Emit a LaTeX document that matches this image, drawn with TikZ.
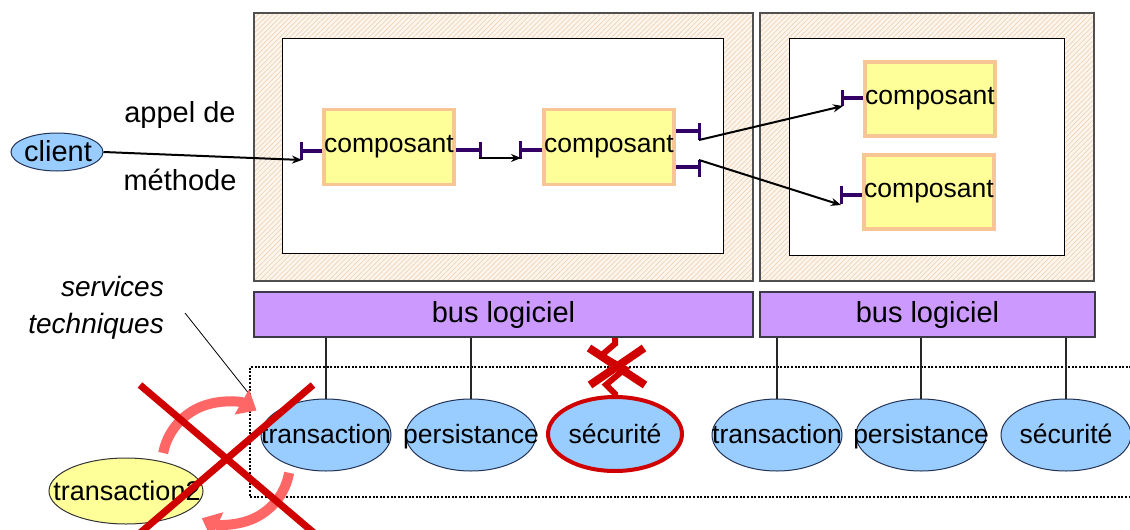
\documentclass[tikz,border=0pt]{standalone}
\usepackage{fontspec}
\setmainfont{Liberation Sans}
\usetikzlibrary{arrows.meta,patterns.meta,shapes.geometric,calc}

\definecolor{hatchbg}{HTML}{FDF6EE}
\definecolor{hatchln}{HTML}{F0D2B4}
\definecolor{framec}{HTML}{505050}
\definecolor{compfill}{HTML}{FFFF99}
\definecolor{compedge}{HTML}{F8C695}
\definecolor{portc}{HTML}{330066}
\definecolor{busfill}{HTML}{CC99FF}
\definecolor{busedge}{HTML}{3A3A4A}
\definecolor{svcfill}{HTML}{99CCFF}
\definecolor{svcedge}{HTML}{223355}
\definecolor{crossc}{HTML}{D00000}
\definecolor{cyclec}{HTML}{FF6666}

\begin{document}
\begin{tikzpicture}[x=1pt,y=-1pt,
  container/.style={draw=framec, line width=1.5pt, inner sep=0pt,
    preaction={fill=hatchbg},
    pattern={Lines[angle=45,distance=3.5pt,line width=0.7pt]}, pattern color=hatchln},
  inner/.style={draw=black, fill=white, line width=1pt, inner sep=0pt},
  comp/.style={draw=compedge, fill=compfill, line width=3.5pt, inner sep=0pt,
    minimum width=128pt, minimum height=75pt, font=\fontsize{26.5}{30}\selectfont},
  port/.style={draw=portc, line width=3.5pt},
  call/.style={draw=black, line width=2pt, -{Stealth[length=10pt,width=8pt]}},
  bus/.style={draw=busedge, fill=busfill, line width=1.5pt, inner sep=0pt,
    minimum height=45pt, font=\fontsize{29}{34}\selectfont},
  svc/.style={ellipse, draw=svcedge, fill=svcfill, line width=1pt, inner sep=0pt,
    minimum width=130pt, minimum height=72pt},
  svctext/.style={anchor=base, inner sep=0pt, font=\fontsize{26.5}{30}\selectfont},
  lbl/.style={anchor=base, inner sep=0pt, font=\fontsize{29}{34}\selectfont},
  link/.style={draw=black!85, line width=1.2pt},
  dotbox/.style={draw=black, line width=2pt, dash pattern=on 2pt off 1.6pt},
  bigcross/.style={draw=crossc, line width=7pt},
  smallcross/.style={draw=crossc, line width=8pt},
  cyc/.style={draw=cyclec, line width=10pt, -{Triangle[length=17pt,width=28pt]}}
]
\useasboundingbox (0,0) rectangle (1130,530);
\fill[white] (0,0) rectangle (1130,530);

% containers
\node[container, minimum width=499pt, minimum height=268pt] (c1) at (503.5,147) {};
\node[inner, minimum width=441pt, minimum height=215pt] (i1) at (502.5,145.5) {};
\node[container, minimum width=334pt, minimum height=268pt] (c2) at (927,147) {};
\node[inner, minimum width=275pt, minimum height=217pt] (i2) at (926.5,146.5) {};

% buses
\node[bus, minimum width=499pt] (bus1) at (503.5,314.5) {bus logiciel};
\node[bus, minimum width=335pt] (bus2) at (927.5,314.5) {bus logiciel};

% components
\node[comp] (b1) at (389,147) {composant};
\node[comp] (b2) at (609,147) {composant};
\node[comp, minimum height=74pt] (b3) at (930,99) {composant};
\node[comp, minimum width=130pt, minimum height=74pt] (b4) at (929,192) {composant};

% ports
\draw[port] (b1.west) ++(0,4) -- ++(-21,0) ++(0,-9) -- ++(0,18);
\draw[port] (b1.east) ++(0,3) -- ++(25,0) ++(0,-8) -- ++(0,16);
\draw[port] (b2.west) ++(0,3) -- ++(-22,0) ++(0,-9) -- ++(0,18);
\draw[port] (b2.east) ++(0,-16) -- ++(24,0) ++(0,-8) -- ++(0,17);
\draw[port] (b2.east) ++(0,20) -- ++(24,0) ++(0,-7) -- ++(0,17);
\draw[port] (b3.west) ++(0,-1) -- ++(-21,0) ++(0,-8) -- ++(0,16);
\draw[port] (b4.west) ++(0,3) -- ++(-21,0) ++(0,-9) -- ++(0,18);

\coordinate (b1in)  at (302,160);
\coordinate (b1out) at (479,158);
\coordinate (b2in)  at (521,158);
\coordinate (b2up)  at (699,140);
\coordinate (b2lo)  at (699,160);
\coordinate (b3in)  at (843,106);
\coordinate (b4in)  at (841,205);

% client and calls
\node[ellipse, draw=svcedge, fill=svcfill, line width=1pt, inner sep=0pt,
  minimum width=92pt, minimum height=38pt] (client) at (57,152) {};
\node[lbl] (clientlbl) at (58,161) {client};
\node[lbl] (appel) at (180,122) {appel de};
\node[lbl] (meth) at (180,190) {méthode};

\draw[call] (client.east) -- (b1in);
\draw[call] (b1out) -- (b2in);
\draw[call] (b2up) -- (b3in);
\draw[call] (b2lo) -- (b4in);

% technical services area
\draw[dotbox] (1135,367) -- (250,367) -- (250,497) -- (1135,497);
\node[anchor=east, align=right, inner sep=0pt,
  font=\itshape\fontsize{28}{37}\selectfont] (st) at (164,308) {services\\techniques};
\coordinate (leadA) at (185,313);
\coordinate (leadB) at (250,395);
\draw[black, line width=0.8pt] (leadA) -- (leadB);

% services
\node[svc] (s1) at (326,435) {};
\node[svc] (s2) at (471,435) {};
\node[svc, draw=crossc, line width=4pt, minimum width=134pt, minimum height=74pt] (s3) at (615,434) {};
\node[svc] (s4) at (777,435) {};
\node[svc] (s5) at (921,435) {};
\node[svc] (s6) at (1066,435) {};

\node[svctext] (s1t) at (326,443) {transaction};
\node[svctext] (s2t) at (471,443) {persistance};
\node[svctext] (s3t) at (615,443) {sécurité};
\node[svctext] (s4t) at (777,443) {transaction};
\node[svctext] (s5t) at (921,443) {persistance};
\node[svctext] (s6t) at (1066,443) {sécurité};

\draw[link] (s1.north |- bus1.south) -- (s1.north);
\draw[link] (s2.north |- bus1.south) -- (s2.north);
\draw[link] (s4.north |- bus2.south) -- (s4.north);
\draw[link] (s5.north |- bus2.south) -- (s5.north);
\draw[link] (s6.north |- bus2.south) -- (s6.north);

% broken link to the security service
\draw[draw=crossc, line width=6pt, line join=miter]
  (s3.north |- bus1.south) -- ++(0,6) -- ++(-14,12) -- ++(24,13) -- ++(-19,16) -- ++(9,9) -- (s3.north);
\draw[smallcross] (589,348) -- (645,385) (644,348) -- (590,385);

% replacement service
\node[ellipse, draw=black!80, fill=compfill, line width=1pt, inner sep=0pt,
  minimum width=154pt, minimum height=66pt] (tx2) at (126,491) {};
\node[svctext, font=\fontsize{27}{30}\selectfont] (tx2t) at (127,500) {transaction2};

% swap cycle, crossed out
\draw[cyc] (163.2,453) arc[start angle=191, end angle=300, radius=63];
\draw[cyc] (289.1,472.8) arc[start angle=10, end angle=115, radius=62];
\draw[bigcross] (140,385) -- (314,533) (313,385) -- (140,533);
\end{tikzpicture}
\end{document}
